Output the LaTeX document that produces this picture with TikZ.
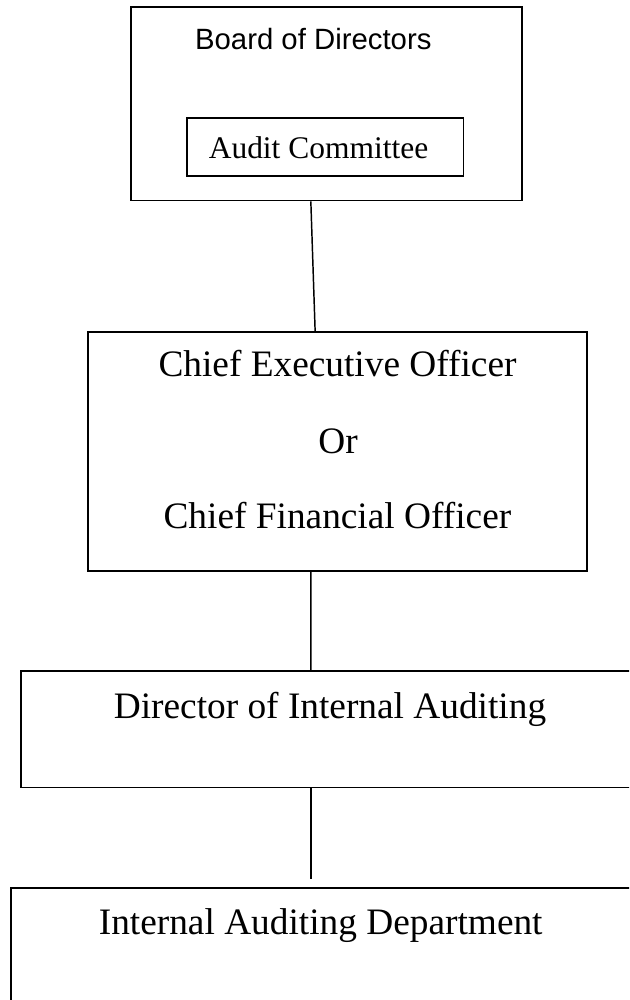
\documentclass[tikz,border=0pt]{standalone}
\usepackage{fontspec}
\setmainfont{Liberation Serif}
\newfontfamily\arialfont{Liberation Sans}
\usetikzlibrary{fit,calc}
\begin{document}
\begin{tikzpicture}[x=0.75pt,y=-0.75pt,
  box/.style={draw, line width=1.3pt, inner sep=0pt, rectangle},
  conn/.style={line width=1.1pt},
  lbl/.style={anchor=base, inner sep=0pt, font=\fontsize{28}{34}\selectfont}]
\useasboundingbox (0,0) rectangle (629,1000);
\clip (0,0) rectangle (629,1000);
\fill[white] (0,0) rectangle (629,1000);
% boxes
\node[box, fit={(130.7,7) (521.7,200.5)}] (b1) {};
\node[box, fit={(186.7,117.7) (463.5,176)}] (b1in) {};
\node[box, fit={(88.3,332) (587.3,571)}] (b2) {};
\node[box, fit={(20.7,671) (645,787.5)}] (b3) {};
\node[box, fit={(10.7,888) (645,1015)}] (b4) {};
% texts
\node[anchor=base, inner sep=0pt, font=\arialfont\fontsize{22}{26}\selectfont] (t1) at (313.3,49) {Board of Directors};
\node[anchor=base, inner sep=0pt, font=\fontsize{23.6}{28}\selectfont] (t1b) at (318.5,158.3) {Audit Committee};
\node[lbl] (t2a) at (337.5,376.7) {Chief Executive Officer};
\node[lbl] (t2b) at (338,453) {Or};
\node[lbl] (t2c) at (337.4,528.3) {Chief Financial Officer};
\node[lbl] (t3) at (330,718.3) {Director of Internal Auditing};
\node[lbl] (t4) at (320.7,934) {Internal Auditing Department};
% connectors
\draw[conn] ($(b1.south west)+(181,0)$) -- ($(b2.north west)+(227.7,0)$);
\draw[conn] ($(b2.south west)+(223.4,0)$) -- ($(b3.north west)+(291,0)$);
\coordinate (c3end) at ($(b4.north west)+(301,-8)$);
\draw[conn] ($(b3.south west)+(291,0)$) -- (c3end);
\end{tikzpicture}
\end{document}
